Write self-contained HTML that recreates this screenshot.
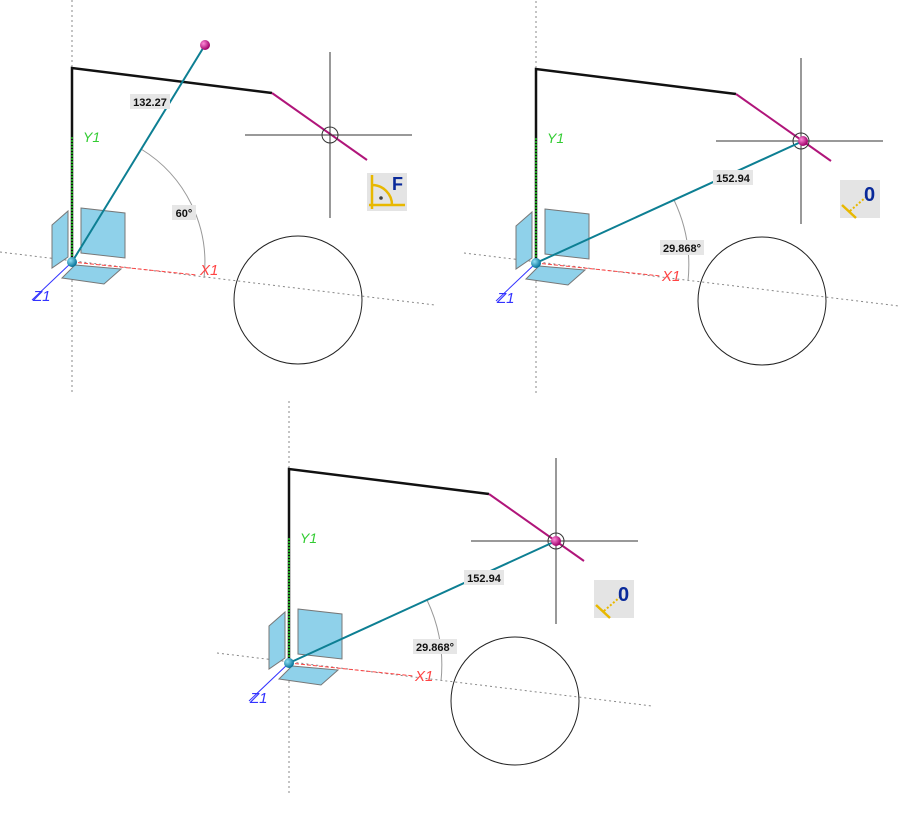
<!DOCTYPE html>
<html><head><meta charset="utf-8"><style>
html,body{margin:0;padding:0;background:#fff;width:900px;height:817px;overflow:hidden}
svg text{font-family:"Liberation Sans",sans-serif}
</style></head><body>
<svg width="900" height="817" viewBox="0 0 900 817" xmlns="http://www.w3.org/2000/svg">
<defs>
<radialGradient id="gb" cx="35%" cy="35%" r="65%"><stop offset="0" stop-color="#8fe0f5"/><stop offset="1" stop-color="#06739a"/></radialGradient>
<radialGradient id="gm" cx="35%" cy="35%" r="65%"><stop offset="0" stop-color="#ff8ad8"/><stop offset="1" stop-color="#a0006a"/></radialGradient>
<g id="base">
  <line x1="0" y1="-262" x2="0" y2="133" stroke="#888" stroke-dasharray="2,3" stroke-width="1"/>
  <line x1="-72" y1="-10" x2="363" y2="43" stroke="#888" stroke-dasharray="2,3" stroke-width="1"/>
  <path d="M0,0 V-194 L200,-169" fill="none" stroke="#111" stroke-width="2.5"/>
  <line x1="0" y1="0" x2="0" y2="-125" stroke="#2c2" stroke-width="1.5" stroke-dasharray="2,1"/>
  <line x1="200" y1="-169" x2="295" y2="-102" stroke="#b0157a" stroke-width="2"/>
  <line x1="0" y1="0" x2="125" y2="13" stroke="#f44" stroke-dasharray="4,2" stroke-width="1"/>
  <line x1="0" y1="0" x2="-40" y2="38" stroke="#33f" stroke-width="1"/>
  <circle cx="226" cy="38" r="64" fill="none" stroke="#222" stroke-width="1"/>
  <polygon points="-20,-37 -4,-51 -4,-5 -20,6" fill="#8fd1ea" stroke="#777" stroke-width="1"/>
  <polygon points="9,-54 53,-49 53,-4 9,-9" fill="#8fd1ea" stroke="#777" stroke-width="1"/>
  <polygon points="3,3 49,7 32,22 -10,16" fill="#8fd1ea" stroke="#777" stroke-width="1"/>
</g>
<g id="cross">
  <line x1="-85" y1="0" x2="82" y2="0" stroke="#333" stroke-width="1"/>
  <line x1="0" y1="-83" x2="0" y2="83" stroke="#333" stroke-width="1"/>
  <circle cx="0" cy="0" r="8" fill="none" stroke="#333" stroke-width="1"/>
</g>
</defs>

<!-- Panel 1 -->
<g transform="translate(72,262)"><use href="#base"/></g>
<use href="#cross" x="330" y="135"/>
<path d="M141,149 A133,133 0 0 1 204,278" fill="none" stroke="#999" stroke-width="1"/>
<line x1="72" y1="262" x2="205" y2="45" stroke="#0d7f93" stroke-width="2"/>
<circle cx="205" cy="45" r="5" fill="url(#gm)"/>
<circle cx="72" cy="262" r="5" fill="url(#gb)"/>
<rect x="130" y="94" width="40" height="15" fill="#e6e6e6"/>
<text x="150" y="106" font-size="11" font-weight="bold" text-anchor="middle" fill="#111">132.27</text>
<rect x="172" y="205" width="24" height="15" fill="#e6e6e6"/>
<text x="184" y="217" font-size="11" font-weight="bold" text-anchor="middle" fill="#111">60°</text>
<text x="83" y="142" font-size="14" font-style="italic" fill="#3c3">Y1</text>
<text x="200" y="275" font-size="15" font-style="italic" fill="#f44">X1</text>
<text x="33" y="301" font-size="15" font-style="italic" fill="#33f">Z1</text>
<g transform="translate(367,173)">
  <rect width="40" height="38" fill="#e4e4e4"/>
  <path d="M5,2 V36 M2,32 H38 M5,12 A20,20 0 0 1 25,32" fill="none" stroke="#e8b800" stroke-width="2.5"/>
  <circle cx="14" cy="25" r="1.8" fill="#444"/>
  <text x="25" y="17" font-size="18" font-weight="bold" fill="#0a2a9a">F</text>
</g>

<!-- Panel 2 -->
<g transform="translate(536,263)"><use href="#base"/></g>
<use href="#cross" x="801" y="141"/>
<path d="M674,200 A152,152 0 0 1 688,281" fill="none" stroke="#999" stroke-width="1"/>
<line x1="536" y1="263" x2="803" y2="141" stroke="#0d7f93" stroke-width="2"/>
<circle cx="803" cy="141" r="5" fill="url(#gm)"/>
<circle cx="536" cy="263" r="5" fill="url(#gb)"/>
<rect x="713" y="170" width="40" height="15" fill="#e6e6e6"/>
<text x="733" y="182" font-size="11" font-weight="bold" text-anchor="middle" fill="#111">152.94</text>
<rect x="660" y="240" width="44" height="15" fill="#e6e6e6"/>
<text x="682" y="252" font-size="11" font-weight="bold" text-anchor="middle" fill="#111">29.868°</text>
<text x="547" y="143" font-size="14" font-style="italic" fill="#3c3">Y1</text>
<text x="662" y="281" font-size="15" font-style="italic" fill="#f44">X1</text>
<text x="497" y="303" font-size="15" font-style="italic" fill="#33f">Z1</text>
<g transform="translate(840,180)">
  <rect width="40" height="38" fill="#e4e4e4"/>
  <line x1="2" y1="25" x2="16" y2="38" stroke="#e8b800" stroke-width="2.5"/>
  <line x1="10" y1="31" x2="26" y2="17" stroke="#e8b800" stroke-width="2" stroke-dasharray="2,2"/>
  <text x="24" y="21" font-size="20" font-weight="bold" fill="#0a2a9a">0</text>
</g>

<!-- Panel 3 -->
<g transform="translate(289,663)"><use href="#base"/></g>
<use href="#cross" x="556" y="541"/>
<path d="M427,600 A152,152 0 0 1 441,681" fill="none" stroke="#999" stroke-width="1"/>
<line x1="289" y1="663" x2="556" y2="541" stroke="#0d7f93" stroke-width="2"/>
<circle cx="556" cy="541" r="5" fill="url(#gm)"/>
<circle cx="289" cy="663" r="5" fill="url(#gb)"/>
<rect x="464" y="570" width="40" height="15" fill="#e6e6e6"/>
<text x="484" y="582" font-size="11" font-weight="bold" text-anchor="middle" fill="#111">152.94</text>
<rect x="413" y="639" width="44" height="15" fill="#e6e6e6"/>
<text x="435" y="651" font-size="11" font-weight="bold" text-anchor="middle" fill="#111">29.868°</text>
<text x="300" y="543" font-size="14" font-style="italic" fill="#3c3">Y1</text>
<text x="415" y="681" font-size="15" font-style="italic" fill="#f44">X1</text>
<text x="250" y="703" font-size="15" font-style="italic" fill="#33f">Z1</text>
<g transform="translate(594,580)">
  <rect width="40" height="38" fill="#e4e4e4"/>
  <line x1="2" y1="25" x2="16" y2="38" stroke="#e8b800" stroke-width="2.5"/>
  <line x1="10" y1="31" x2="26" y2="17" stroke="#e8b800" stroke-width="2" stroke-dasharray="2,2"/>
  <text x="24" y="21" font-size="20" font-weight="bold" fill="#0a2a9a">0</text>
</g>
</svg>
</body></html>
